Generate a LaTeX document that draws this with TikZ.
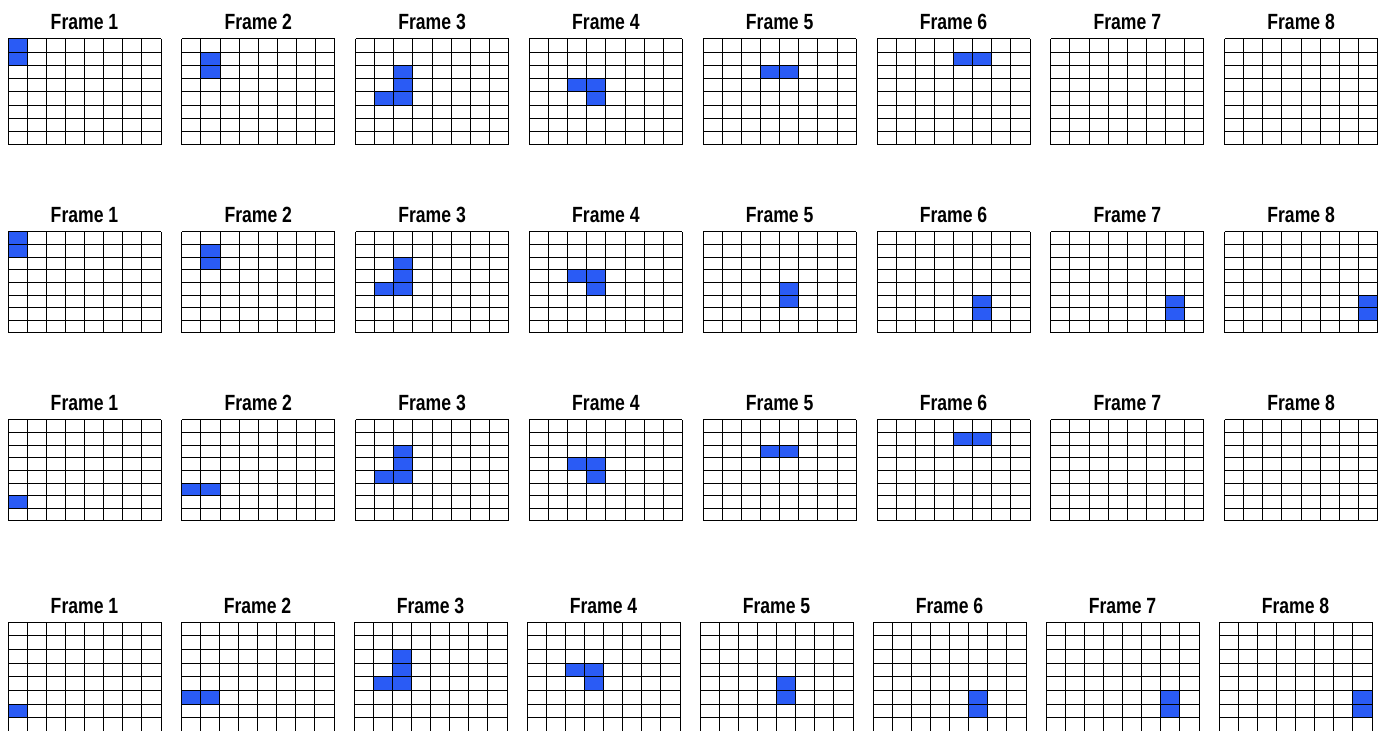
\documentclass[tikz,border=0pt]{standalone}
\usepackage{fontspec}
\newfontfamily\framefont[FakeStretch=0.8]{Liberation Sans}
\usepackage{tikz}
\definecolor{cellblue}{HTML}{2A5BF5}

\begin{document}
\begin{tikzpicture}[
    x=0.5pt, y=-0.5pt,
    framegrid/.style={draw=black, line width=0.5pt},
    cellfill/.style={fill=cellblue},
    framelabel/.style={font=\framefont\bfseries\fontsize{11}{13}\selectfont, anchor=base, inner sep=0pt},
]
    \useasboundingbox (0,0) rectangle (1386,731);
    \clip (0,0) rectangle (1386,731);

    % blue cells: row/frame/column/cell row
    \foreach \r/\f/\c/\k in {
        1/1/0/0, 1/1/0/1, 1/2/1/1, 1/2/1/2, 1/3/2/2, 1/3/2/3, 1/3/2/4, 1/3/1/4,
        1/4/2/3, 1/4/3/3, 1/4/3/4, 1/5/3/2, 1/5/4/2, 1/6/4/1, 1/6/5/1,
        2/1/0/0, 2/1/0/1, 2/2/1/1, 2/2/1/2, 2/3/2/2, 2/3/2/3, 2/3/2/4, 2/3/1/4,
        2/4/2/3, 2/4/3/3, 2/4/3/4, 2/5/4/4, 2/5/4/5, 2/6/5/5, 2/6/5/6,
        2/7/6/5, 2/7/6/6, 2/8/7/5, 2/8/7/6,
        3/1/0/6, 3/2/0/5, 3/2/1/5, 3/3/2/2, 3/3/2/3, 3/3/2/4, 3/3/1/4,
        3/4/2/3, 3/4/3/3, 3/4/3/4, 3/5/3/2, 3/5/4/2, 3/6/4/1, 3/6/5/1,
        4/1/0/6, 4/2/0/5, 4/2/1/5, 4/3/2/2, 4/3/2/3, 4/3/2/4, 4/3/1/4,
        4/4/2/3, 4/4/3/3, 4/4/3/4, 4/5/4/4, 4/5/4/5, 4/6/5/5, 4/6/5/6,
        4/7/6/5, 4/7/6/6, 4/8/7/5, 4/8/7/6} {
        \pgfmathsetmacro\gtop{{39,232,420,622}[\r-1]}
        \pgfmathsetmacro\ch{{13.25,12.625,12.625,13.7}[\r-1]}
        \pgfmathsetmacro\dx{{173.8,173.8,173.8,173}[\r-1]}
        \pgfmathsetmacro\gx{8+(\f-1)*\dx+\c*19.125}
        \pgfmathsetmacro\gy{\gtop+\k*\ch}
        \fill[cellfill] (\gx,\gy) rectangle ++(19.125,\ch);
    }

    % grids and titles
    \foreach \r/\gtop/\ch/\dx in {1/39/13.25/173.8, 2/232/12.625/173.8, 3/420/12.625/173.8, 4/622/13.7/173} {
        \foreach \f in {1,...,8} {
            \pgfmathsetmacro\gx{8+(\f-1)*\dx}
            \node[framelabel] (title-\r-\f) at (\gx+76.5,\gtop-9) {Frame \f};
            \foreach \i in {0,...,8} {
                \draw[framegrid] (\gx+\i*19.125,\gtop) -- ++(0,8*\ch);
                \draw[framegrid] (\gx,\gtop+\i*\ch) -- ++(153,0);
            }
        }
    }
\end{tikzpicture}
\end{document}
